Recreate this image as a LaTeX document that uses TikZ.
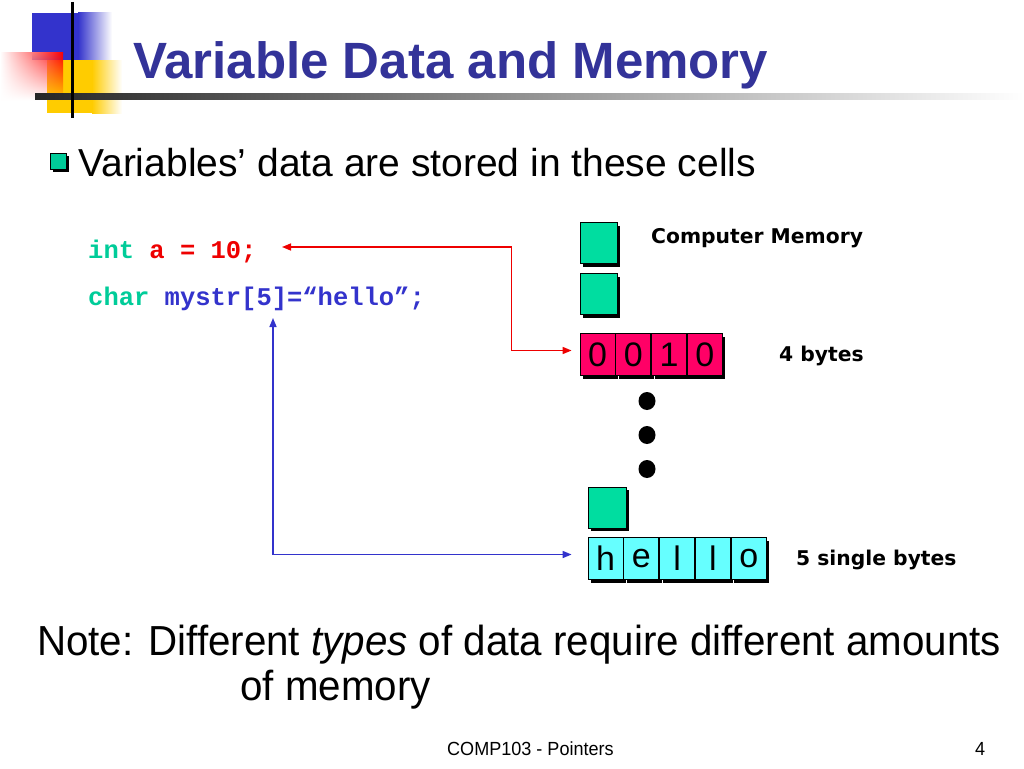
\documentclass[tikz,border=0pt]{standalone}
\usepackage{fontspec}
\setmainfont{Liberation Sans}
\newfontfamily\codefont{Liberation Mono}
\newfontfamily\labelfont{DejaVu Sans}
\newfontfamily\notefont[FakeStretch=0.96,Ligatures=CommonOff]{Liberation Sans}
\newfontfamily\footfont[FakeStretch=0.95]{Liberation Sans}
\usetikzlibrary{positioning,arrows.meta,shadows,fadings}

\definecolor{titleblue}{RGB}{51,51,153}
\definecolor{codegreen}{RGB}{0,204,153}
\definecolor{codered}{RGB}{238,0,0}
\definecolor{codeblue}{RGB}{51,51,204}
\definecolor{cellgreen}{RGB}{0,221,160}
\definecolor{cellpink}{RGB}{255,0,102}
\definecolor{cellcyan}{RGB}{102,255,255}
\definecolor{logoyellow}{RGB}{255,204,0}

\tikzset{
  box/.style={draw=black,line width=0.8pt,inner sep=0pt,
    general shadow={fill=black,shadow xshift=3pt,shadow yshift=-3pt}},
  cell/.style={box,minimum width=35pt,minimum height=42pt,
    font=\fontsize{34}{34}\selectfont},
  slot/.style={box,fill=cellgreen,minimum width=37pt,minimum height=41pt},
  code/.style={anchor=base west,inner sep=0pt,font=\codefont\bfseries\fontsize{25.5}{25.5}\selectfont},
  memlabel/.style={anchor=base west,inner sep=0pt,font=\labelfont\bfseries\fontsize{20.3}{20.3}\selectfont},
  ptr/.style={{Triangle[length=9pt,width=7pt]}-{Triangle[length=9pt,width=7pt]},line width=1.5pt}
}

\begin{document}
\begin{tikzpicture}[x=1pt,y=-1pt]
  \useasboundingbox (0,0) rectangle (1024,768);
  \fill[white] (0,0) rectangle (1024,768);

  % logo
  \fill[codeblue] (32,13) rectangle (78,60);
  \shade[left color=codeblue,right color=white] (78,13) rectangle (112,60);
  \fill[logoyellow] (47,60) rectangle (92,113);
  \shade[left color=logoyellow,right color=white] (92,60) rectangle (122,113);
  \shade[left color=white,right color=red,path fading=south] (0,52) rectangle (63,100);
  \shade[left color=black!85,right color=white] (35,93) rectangle (1024,99);
  \draw[line width=3pt] (72,2) -- (72,118);

  % title and bullet
  \node[anchor=base west,inner sep=0pt,text=titleblue,font=\bfseries\fontsize{51}{51}\selectfont] (title) at (133,78) {Variable Data and Memory};
  \node[box,fill=codegreen,minimum width=16pt,minimum height=16pt] (bullet) at (58,161) {};
  \node[anchor=base west,inner sep=0pt,font=\fontsize{39}{39}\selectfont] (intro) at (78,176) {Variables’ data are stored in these cells};

  % code
  \node[code] (inta) at (88,258) {\textcolor{codegreen}{int} \textcolor{codered}{a = 10;}};
  \node[code] (charstr) at (88,305) {\textcolor{codegreen}{char} \textcolor{codeblue}{mystr[5]=“hello”;}};

  % memory
  \node[slot] (s1) at (598.5,243) {};
  \node[slot] (s2) at (598.5,294) {};
  \node[cell,fill=cellpink] (b1) at (597.5,354.5) {0};
  \node[cell,fill=cellpink,right=0pt of b1] (b2) {0};
  \node[cell,fill=cellpink,right=0pt of b2] (b3) {1};
  \node[cell,fill=cellpink,right=0pt of b3] (b4) {0};
  \foreach \y in {401,435,469}
    \fill (647,\y) ellipse (8.5 and 9);
  \node[slot,minimum width=38pt] (s3) at (607,507.5) {};
  \node[cell,fill=cellcyan] (h1) at (605.5,558.5) {h};
  \node[cell,fill=cellcyan,right=0pt of h1] (h2) {e};
  \node[cell,fill=cellcyan,right=0pt of h2] (h3) {l};
  \node[cell,fill=cellcyan,right=0pt of h3] (h4) {l};
  \node[cell,fill=cellcyan,right=0pt of h4] (h5) {o};

  \node[memlabel] (memtitle) at (651,243) {Computer Memory};
  \node[memlabel] (bytes4) at (779,361) {4 bytes};
  \node[memlabel] (bytes5) at (796,565) {5 single bytes};

  % pointers
  \coordinate (atip) at (282,247);
  \coordinate (strtip) at (273,318);
  \draw[ptr,codered] (atip) -| ([xshift=-68pt,yshift=4pt]b1.west) -- ([xshift=-8pt,yshift=4pt]b1.west);
  \draw[ptr,codeblue] (strtip) |- ([xshift=-16pt,yshift=4pt]h1.west);

  % note and footer
  \node[anchor=base west,inner sep=0pt,font=\notefont\fontsize{42}{42}\selectfont] (note1) at (37,655) {Note: Different \textit{types} of data require different amounts};
  \node[anchor=base west,inner sep=0pt,font=\notefont\fontsize{42}{42}\selectfont] (note2) at (240,700) {of memory};
  \node[anchor=base west,inner sep=0pt,font=\footfont\fontsize{19}{19}\selectfont] (footer) at (447,755) {COMP103 - Pointers};
  \node[anchor=base west,inner sep=0pt,font=\footfont\fontsize{19}{19}\selectfont] (page) at (975,755) {4};
\end{tikzpicture}
\end{document}
